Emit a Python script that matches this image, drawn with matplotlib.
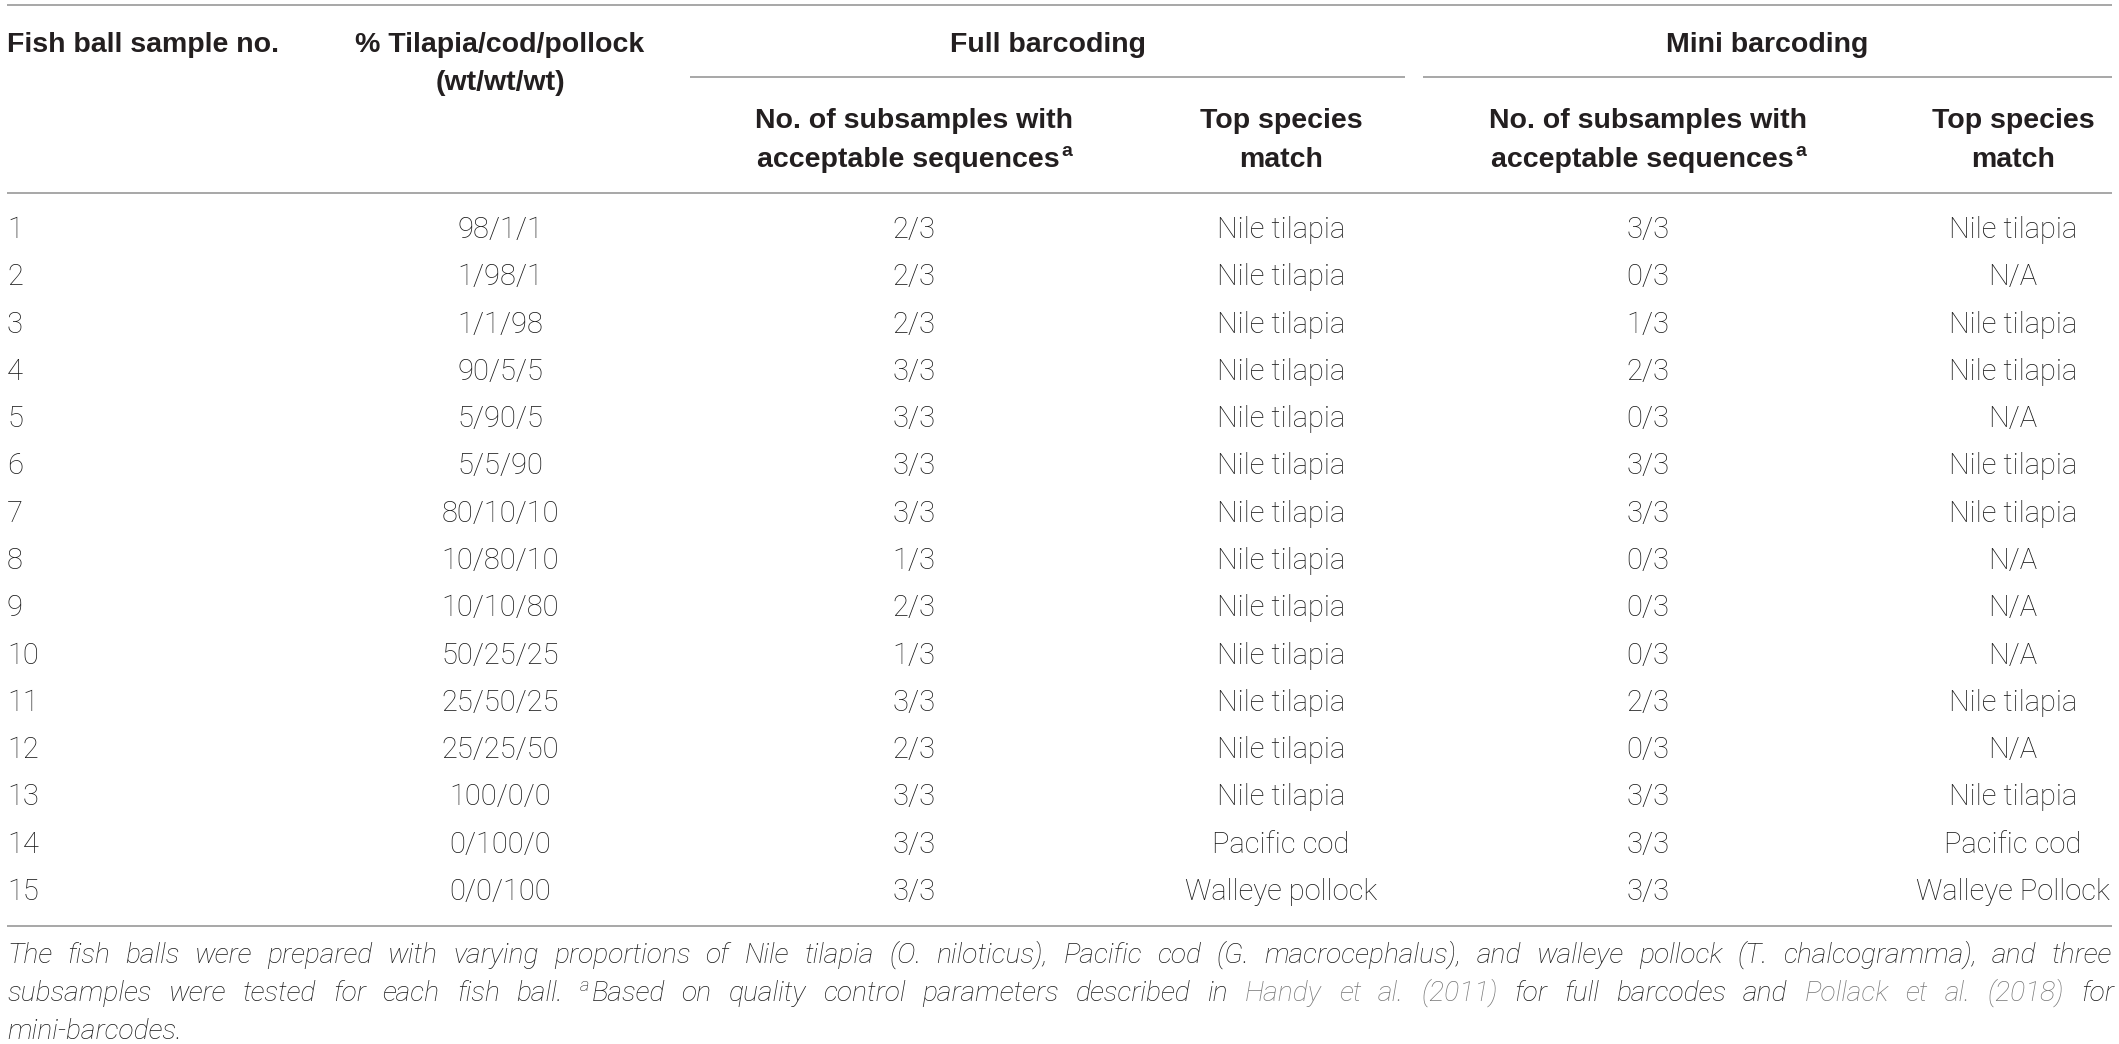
import matplotlib
matplotlib.use("Agg")
import matplotlib.font_manager as fm
import matplotlib.pyplot as plt

W, H = 2119, 1044

sample_no = [str(i) for i in range(1, 16)]
composition = ["98/1/1", "1/98/1", "1/1/98", "90/5/5", "5/90/5", "5/5/90", "80/10/10",
               "10/80/10", "10/10/80", "50/25/25", "25/50/25", "25/25/50", "100/0/0",
               "0/100/0", "0/0/100"]
full_ok = ["2/3", "2/3", "2/3", "3/3", "3/3", "3/3", "3/3", "1/3", "2/3", "1/3", "3/3",
           "2/3", "3/3", "3/3", "3/3"]
full_match = ["Nile tilapia"] * 13 + ["Pacific cod", "Walleye pollock"]
mini_ok = ["3/3", "0/3", "1/3", "2/3", "0/3", "3/3", "3/3", "0/3", "0/3", "0/3", "2/3",
           "0/3", "3/3", "3/3", "3/3"]
mini_match = ["Nile tilapia", "N/A", "Nile tilapia", "Nile tilapia", "N/A", "Nile tilapia",
              "Nile tilapia", "N/A", "N/A", "N/A", "Nile tilapia", "N/A", "Nile tilapia",
              "Pacific cod", "Walleye Pollock"]

group_headers = ["Full barcoding", "Mini barcoding"]
ok_header = ["No. of subsamples with", "acceptable sequences"]
match_header = ["Top species", "match"]

footnote = [
    [("The fish balls were prepared with varying proportions of Nile tilapia (O. niloticus), "
      "Pacific cod (G. macrocephalus), and walleye pollock (T. chalcogramma), and three", "plain")],
    [("subsamples were tested for each fish ball. ", "plain"), ("a", "sup"),
     ("Based on quality control parameters described in ", "plain"),
     ("Handy et al. (2011)", "link"), (" for full barcodes and ", "plain"),
     ("Pollack et al. (2018)", "link"), (" for", "plain")],
    [("mini-barcodes.", "plain")],
]

TEXT = "#1a1a1a"
HEAD = "#231f20"
RULE = "#9d9d9d"
LINK = "#777777"

# column anchors (pixels)
X_LEFT, X_RIGHT = 7, 2112
COL_X = [7, 500, 914, 1281, 1648, 2013]
ROW0, ROW_STEP = 238, 47.29


def pick_body_font():
    names = {f.name for f in fm.fontManager.ttflist if f.weight in (300, "light")}
    for cand in ["Roboto", "Open Sans", "Lato", "Inter", "Noto Sans"]:
        if cand in names:
            return cand
    return "Liberation Sans"


BODY = pick_body_font()
BOLD = "Liberation Sans"
HEAD_SIZE = 20.5
BODY_SIZE = 21
FOOT_SIZE = 20.3

fig = plt.figure(figsize=(W / 100, H / 100), dpi=100)
ax = fig.add_axes([0, 0, 1, 1])
ax.set_xlim(0, W)
ax.set_ylim(H, 0)
ax.axis("off")
renderer = fig.canvas.get_renderer()


def width_of(s, **kw):
    t = ax.text(0, 0, s, **kw)
    w = t.get_window_extent(renderer).width
    t.remove()
    return w


def rule(x0, x1, y):
    ax.plot([x0, x1], [y, y], color=RULE, lw=1.25, solid_capstyle="butt")


def head(x, y, s, ha="center"):
    ax.text(x, y, s, ha=ha, va="baseline", fontfamily=BOLD, fontweight="bold",
            fontsize=HEAD_SIZE, color=HEAD)


def head_sup(cx, y, s, sup):
    kw = dict(fontfamily=BOLD, fontweight="bold", color=HEAD)
    w1 = width_of(s, fontsize=HEAD_SIZE, **kw)
    w2 = width_of(sup, fontsize=HEAD_SIZE * 0.68, **kw)
    x0 = cx - (w1 + w2) / 2
    ax.text(x0, y, s, ha="left", va="baseline", fontsize=HEAD_SIZE, **kw)
    ax.text(x0 + w1 + 1, y - 11, sup, ha="left", va="baseline", fontsize=HEAD_SIZE * 0.68, **kw)


# rules
rule(X_LEFT, X_RIGHT, 5)
rule(690, 1405, 77)
rule(1423, X_RIGHT, 77)
rule(X_LEFT, X_RIGHT, 193)
rule(X_LEFT, X_RIGHT, 926)

# header
head(COL_X[0], 52, "Fish ball sample no.", ha="left")
head(COL_X[1], 52, "% Tilapia/cod/pollock")
head(COL_X[1], 90, "(wt/wt/wt)")
head((690 + 1405) / 2, 52, group_headers[0])
head((1423 + X_RIGHT) / 2, 52, group_headers[1])
for cx_ok, cx_match in [(COL_X[2], COL_X[3]), (COL_X[4], COL_X[5])]:
    head(cx_ok, 128, ok_header[0])
    head_sup(cx_ok, 167, ok_header[1], "a")
    head(cx_match, 128, match_header[0])
    head(cx_match, 167, match_header[1])

# body
columns = [sample_no, composition, full_ok, full_match, mini_ok, mini_match]
for j, col in enumerate(columns):
    for i, val in enumerate(col):
        ax.text(COL_X[j], ROW0 + i * ROW_STEP, val, ha="left" if j == 0 else "center",
                va="baseline", fontfamily=BODY, fontweight="light", fontsize=BODY_SIZE,
                color=TEXT)

# footnote, justified
foot_kw = dict(fontfamily=BODY, fontweight="light", fontstyle="italic")
style = {
    "plain": dict(fontsize=FOOT_SIZE, color=TEXT),
    "link": dict(fontsize=FOOT_SIZE, color=LINK),
    "sup": dict(fontsize=FOOT_SIZE * 0.65, color=TEXT),
}
foot_y = [963, 1001, 1039]
for li, chunks in enumerate(footnote):
    words = [[]]
    for text, kind in chunks:
        parts = text.split(" ")
        for k, p in enumerate(parts):
            if k > 0:
                words.append([])
            if p:
                words[-1].append((p, kind))
    words = [w for w in words if w]
    widths = [[width_of(p, **foot_kw, **style[kind]) for p, kind in w] for w in words]
    total = sum(sum(ws) for ws in widths)
    if li < len(footnote) - 1 and len(words) > 1:
        gap = (X_RIGHT - X_LEFT - total) / (len(words) - 1)
    else:
        gap = width_of("a a", **foot_kw, **style["plain"]) - 2 * width_of("a", **foot_kw, **style["plain"])
    x = X_LEFT
    y = foot_y[li]
    for w, ws in zip(words, widths):
        for (p, kind), pw in zip(w, ws):
            dy = -10 if kind == "sup" else 0
            ax.text(x, y + dy, p, ha="left", va="baseline", **foot_kw, **style[kind])
            x += pw + (2 if kind == "sup" else 0)
        x += gap

fig.savefig("out.png", dpi=100, facecolor="white")
